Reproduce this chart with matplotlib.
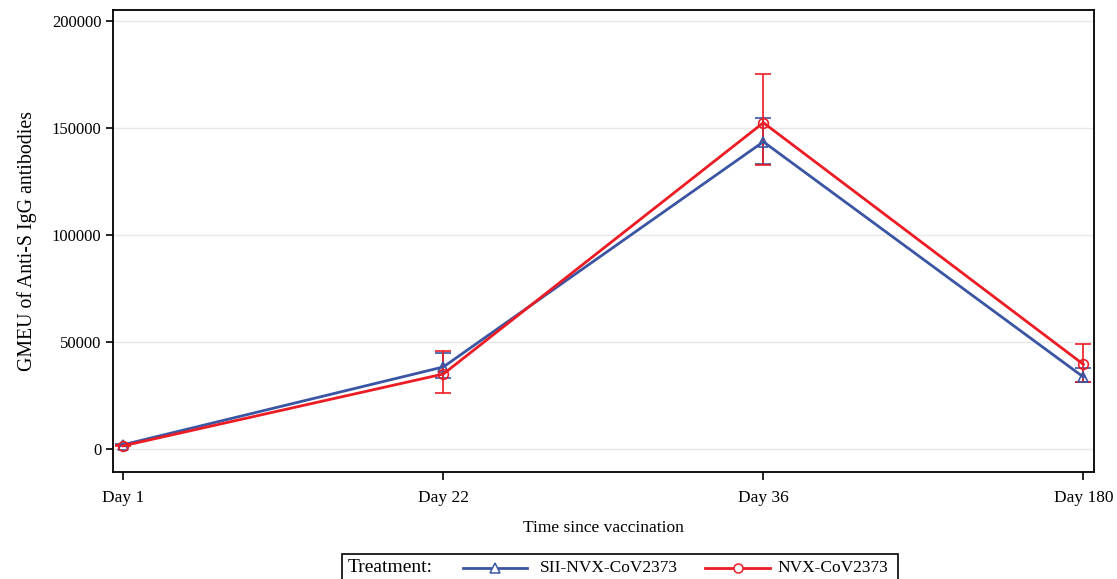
import matplotlib
matplotlib.use("Agg")
import matplotlib.pyplot as plt
from matplotlib.lines import Line2D
from matplotlib.patches import Rectangle
import numpy as np

plt.rcParams['font.family'] = ['Liberation Serif', 'DejaVu Serif']

days = ["Day 1", "Day 22", "Day 36", "Day 180"]

sii_gmeu = [2100, 38400, 143500, 33700]
sii_lower = [1800, 33300, 133000, 31400]
sii_upper = [2400, 44900, 154700, 37900]

nvx_gmeu = [1600, 35100, 152400, 39600]
nvx_lower = [1300, 26300, 132700, 31400]
nvx_upper = [1900, 46000, 175100, 49000]

blue = "#3a55a4"
red = "#ec1c24"

W, H = 1117, 579
fig = plt.figure(figsize=(W / 100, H / 100), dpi=100)
ax = fig.add_axes([0.1009, 0.1853, 0.9794 - 0.1009, 0.9827 - 0.1853])

x = np.arange(len(days))


def draw(vals, lo, hi, color, marker, label):
    vals = np.array(vals)
    yerr = [vals - np.array(lo), np.array(hi) - vals]
    ax.errorbar(x, vals, yerr=yerr, color=color, lw=2, marker=marker,
                ms=7, mfc="none", mec=color, mew=1.2, capsize=6,
                elinewidth=1.2, capthick=1.2, label=label, zorder=3)


draw(sii_gmeu, sii_lower, sii_upper, blue, "^", "SII-NVX-CoV2373")
draw(nvx_gmeu, nvx_lower, nvx_upper, red, "o", "NVX-CoV2373")

ax.set_xlim(-0.033, 3.033)
ax.set_ylim(-10500, 205000)
ax.set_xticks(x)
ax.set_xticklabels(days, fontsize=12.5)
ax.set_yticks([0, 50000, 100000, 150000, 200000])
ax.set_yticklabels(["0", "50000", "100000", "150000", "200000"], fontsize=12)
ax.tick_params(axis="y", length=5, width=1.2, pad=3)
ax.tick_params(axis="x", length=6, width=1.2, pad=7)
ax.yaxis.grid(True, color="#e8e8e8", lw=1)
ax.set_axisbelow(True)
for s in ax.spines.values():
    s.set_linewidth(1.3)

ax.set_ylabel("GMEU of Anti-S IgG antibodies", fontsize=14.3, labelpad=11)
ax.set_xlabel("Time since vaccination", fontsize=12.5, labelpad=10)

# legend box drawn by hand, "Treatment:" sits inside the frame
fx = lambda px: px / W
fy = lambda py: 1 - py / H
fig.add_artist(Rectangle((fx(341.7), fy(582)), fx(898) - fx(341.7), fy(554) - fy(582),
                         transform=fig.transFigure, fill=False, ec="black", lw=1.2))
ty = fy(568)
fig.text(fx(348), ty, "Treatment:", fontsize=14, ha="left", va="center")
fig.add_artist(Line2D([fx(463), fx(527)], [ty, ty], transform=fig.transFigure,
                      color=blue, lw=2))
fig.add_artist(Line2D([fx(495)], [ty], transform=fig.transFigure, color=blue,
                      marker="^", ms=6.5, mfc="white", mew=1.1))
fig.text(fx(540), ty, "SII-NVX-CoV2373", fontsize=12.5, ha="left", va="center")
fig.add_artist(Line2D([fx(705), fx(770)], [ty, ty], transform=fig.transFigure,
                      color=red, lw=2))
fig.add_artist(Line2D([fx(738)], [ty], transform=fig.transFigure, color=red,
                      marker="o", ms=6.5, mfc="white", mew=1.1))
fig.text(fx(777), ty, "NVX-CoV2373", fontsize=12.5, ha="left", va="center")

fig.savefig("out.png", dpi=100)
